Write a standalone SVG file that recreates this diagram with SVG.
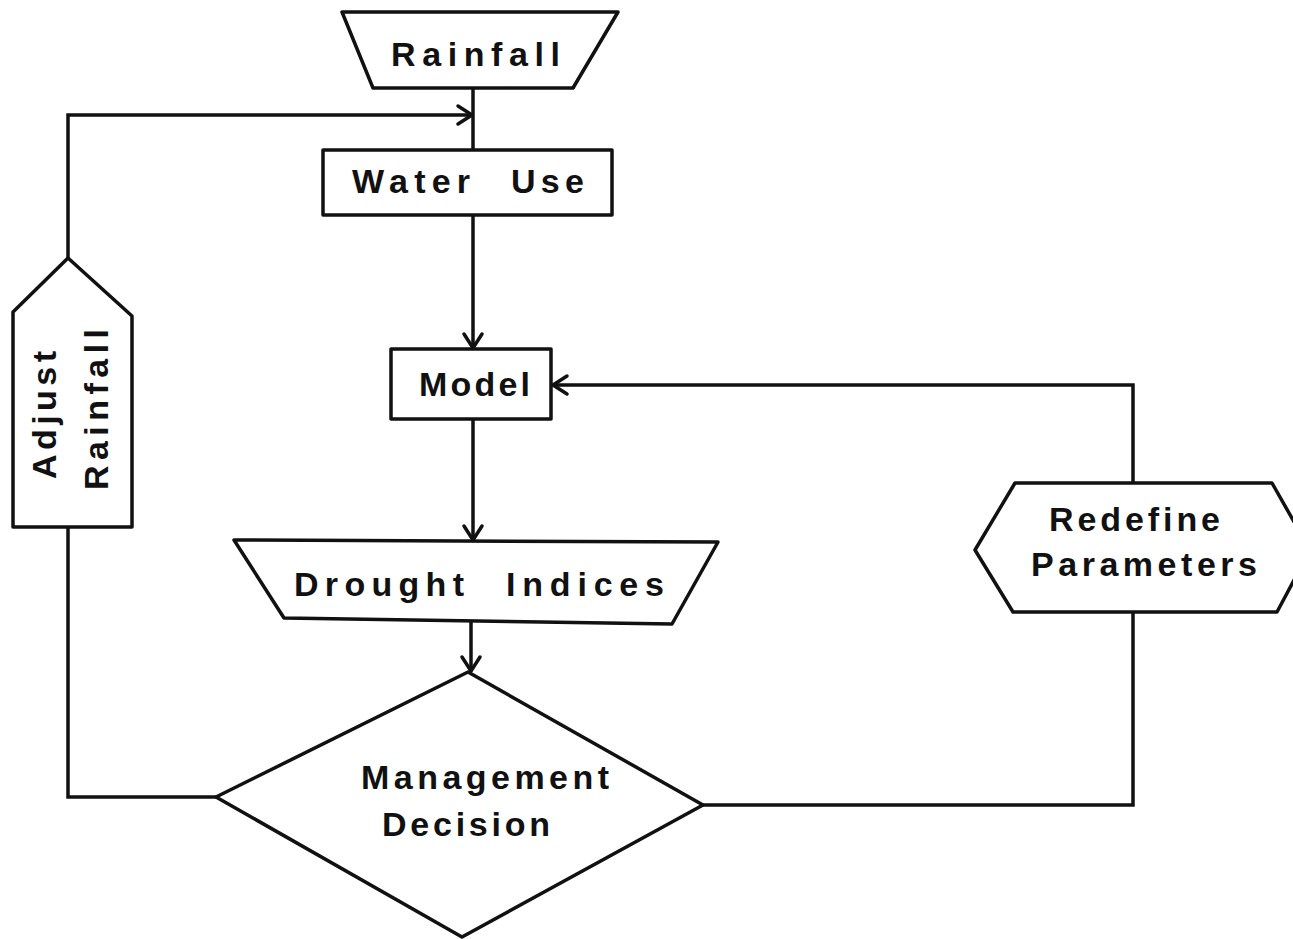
<svg xmlns="http://www.w3.org/2000/svg" width="1293" height="939" viewBox="0 0 1293 939">
  <style>
    .shape { fill: #ffffff; stroke: #111111; stroke-width: 3.5; stroke-linejoin: round; }
    .wire { fill: none; stroke: #111111; stroke-width: 3.5; stroke-linejoin: miter; }
    .label { font-family: "Liberation Sans", Arial, sans-serif; font-weight: bold; font-size: 34px; fill: #111111; }
  </style>
  <defs>
    <!-- open V arrowhead -->
    <marker id="arrow" markerUnits="userSpaceOnUse" markerWidth="30" markerHeight="30" refX="0" refY="0" orient="auto" overflow="visible">
      <path d="M -14 -9 L 0 0 L -14 9" fill="none" stroke="#111111" stroke-width="3.5" stroke-linecap="round" stroke-linejoin="round"/>
    </marker>
  </defs>
  <rect width="1293" height="939" fill="#ffffff"/>

  <g id="connectors">
    <path class="wire" d="M 473 88 V 150"/>
    <path class="wire" d="M 68 258 V 115 H 472" marker-end="url(#arrow)"/>
    <path class="wire" d="M 473 215 V 348" marker-end="url(#arrow)"/>
    <path class="wire" d="M 473 419 V 540" marker-end="url(#arrow)"/>
    <path class="wire" d="M 471 621 V 671" marker-end="url(#arrow)"/>
    <path class="wire" d="M 216 797 H 68 V 527"/>
    <path class="wire" d="M 703 805 H 1133 V 612"/>
    <path class="wire" d="M 1133 483 V 385 H 553" marker-end="url(#arrow)"/>
  </g>

  <g id="rainfall">
    <polygon class="shape" points="342,12 618,12 573,88 373,88"/>
    <text class="label" x="391" y="66" textLength="169" lengthAdjust="spacing">Rainfall</text>
  </g>

  <g id="water-use">
    <rect class="shape" x="323" y="150" width="289" height="65"/>
    <text class="label" y="193"><tspan x="352" textLength="118" lengthAdjust="spacing">Water</tspan> <tspan x="511" textLength="73" lengthAdjust="spacing">Use</tspan></text>
  </g>

  <g id="model">
    <rect class="shape" x="391" y="349" width="160" height="70"/>
    <text class="label" x="419" y="396" textLength="111" lengthAdjust="spacing">Model</text>
  </g>

  <g id="drought-indices">
    <polygon class="shape" points="234,540 718,542 672,624 284,618"/>
    <text class="label" y="596"><tspan x="294" textLength="170" lengthAdjust="spacing">Drought</tspan> <tspan x="506" textLength="158" lengthAdjust="spacing">Indices</tspan></text>
  </g>

  <g id="management-decision">
    <polygon class="shape" points="468,672 703,805 462,937 216,797"/>
    <text class="label" x="361" y="789" textLength="248" lengthAdjust="spacing">Management</text>
    <text class="label" x="382" y="836" textLength="168" lengthAdjust="spacing">Decision</text>
  </g>

  <g id="adjust-rainfall">
    <polygon class="shape" points="68,258 132,316 132,527 13,527 13,312"/>
    <text class="label" transform="translate(56,479) rotate(-90)" x="0" y="0" textLength="128" lengthAdjust="spacing">Adjust</text>
    <text class="label" transform="translate(108,490) rotate(-90)" x="0" y="0" textLength="161" lengthAdjust="spacing">Rainfall</text>
  </g>

  <g id="redefine-parameters">
    <polygon class="shape" points="1015,483 1272,483 1310,550 1277,612 1013,612 975,550"/>
    <text class="label" x="1049" y="531" textLength="171" lengthAdjust="spacing">Redefine</text>
    <text class="label" x="1031" y="576" textLength="226" lengthAdjust="spacing">Parameters</text>
  </g>
</svg>
